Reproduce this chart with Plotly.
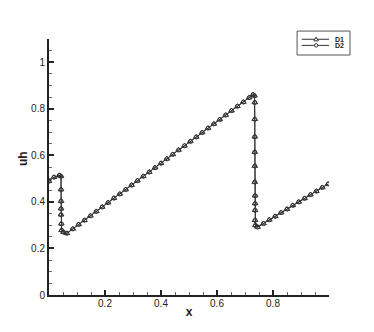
import plotly.graph_objects as go

# D1 (triangles)
d1_x = [0.000, 0.018, 0.037, 0.043, 0.043, 0.043, 0.043, 0.043, 0.044, 0.045, 0.052, 0.064,
        0.085, 0.106, 0.127, 0.148, 0.169, 0.190, 0.211, 0.232, 0.253, 0.274, 0.295, 0.316,
        0.337, 0.358, 0.379, 0.400, 0.421, 0.442, 0.463, 0.484, 0.505, 0.526, 0.547, 0.568,
        0.589, 0.610, 0.631, 0.652, 0.673, 0.694, 0.715, 0.729,
        0.734, 0.735, 0.735, 0.735, 0.735, 0.735, 0.735, 0.736, 0.736, 0.736, 0.736, 0.737, 0.745,
        0.766, 0.787, 0.808, 0.829, 0.850, 0.871, 0.892, 0.913, 0.934, 0.955, 0.976, 0.997]
d1_y = [0.489, 0.506, 0.514, 0.510, 0.453, 0.403, 0.371, 0.345, 0.306, 0.278, 0.270, 0.265,
        0.284, 0.303, 0.321, 0.340, 0.359, 0.378, 0.397, 0.416, 0.434, 0.453, 0.472, 0.491,
        0.510, 0.528, 0.547, 0.566, 0.585, 0.604, 0.623, 0.641, 0.660, 0.679, 0.698, 0.717,
        0.735, 0.754, 0.773, 0.792, 0.811, 0.829, 0.848, 0.861,
        0.856, 0.827, 0.755, 0.680, 0.614, 0.554, 0.485, 0.427, 0.393, 0.364, 0.321, 0.299, 0.292,
        0.307, 0.323, 0.338, 0.354, 0.369, 0.385, 0.400, 0.415, 0.431, 0.446, 0.462, 0.477]

# D2 (circles) (overlaps D1)
d2_x = list(d1_x)
d2_y = list(d1_y)

series_names = ["D1", "D2"]
x_ticks = [0.2, 0.4, 0.6, 0.8]
x_tick_labels = ["0.2", "0.4", "0.6", "0.8"]
y_ticks = [0, 0.2, 0.4, 0.6, 0.8, 1.0]
y_tick_labels = ["0", "0.2", "0.4", "0.6", "0.8", "1"]

FONT = "Liberation Sans, Arial, sans-serif"
LINE_C = "#333333"

fig = go.Figure()
fig.add_trace(go.Scatter(
    x=d1_x, y=d1_y, name=series_names[0], mode="lines+markers",
    line=dict(color=LINE_C, width=1),
    marker=dict(symbol="triangle-up-open", size=5, color=LINE_C, line=dict(width=1)),
))
fig.add_trace(go.Scatter(
    x=d2_x, y=d2_y, name=series_names[1], mode="lines+markers",
    line=dict(color=LINE_C, width=1),
    marker=dict(symbol="circle-open", size=4, color=LINE_C, line=dict(width=1)),
))

axis_common = dict(
    showgrid=False, zeroline=False, showline=True, linecolor="#222222", linewidth=2,
    ticks="inside", ticklen=5, tickwidth=1.5, tickcolor="#222222", automargin=False,
    tickfont=dict(family=FONT, size=10, color="#222222"),
    minor=dict(ticks="inside", ticklen=3, tickwidth=1, tickcolor="#666666",
               tickmode="linear", tick0=0, dtick=0.05),
)

# compact legend drawn in paper coordinates (like the original small legend box)
shapes = [dict(type="rect", xref="paper", yref="paper", x0=0.886, x1=1.075, y0=0.9375, y1=1.031,
               line=dict(color="#555555", width=1), fillcolor="white", layer="above")]
annotations = []
row_y = [0.999, 0.975]
tri_path = "M -2.2 -1.6 L 2.2 -1.6 L 0 2.2 Z"
for i, name in enumerate(series_names):
    yy = row_y[i]
    shapes.append(dict(type="line", xref="paper", yref="paper", x0=0.9025, x1=1.0, y0=yy, y1=yy,
                       line=dict(color=LINE_C, width=1), layer="above"))
    if i == 0:
        shapes.append(dict(type="path", xref="paper", yref="paper", xsizemode="pixel", ysizemode="pixel",
                           xanchor=0.954, yanchor=yy, path=tri_path,
                           line=dict(color=LINE_C, width=1), fillcolor="white", layer="above"))
    else:
        shapes.append(dict(type="circle", xref="paper", yref="paper", xsizemode="pixel", ysizemode="pixel",
                           xanchor=0.954, yanchor=yy, x0=-1.7, x1=1.7, y0=-1.7, y1=1.7,
                           line=dict(color=LINE_C, width=1), fillcolor="white", layer="above"))
    annotations.append(dict(text="<b>" + name + "</b>", xref="paper", yref="paper", x=1.014, y=yy,
                            xanchor="left", yanchor="middle", showarrow=False,
                            font=dict(family=FONT, size=7, color="#222222")))

annotations.append(dict(text="<b>uh</b>", xref="paper", yref="paper", x=-0.093, y=0.535,
                        textangle=-90, xanchor="center", yanchor="middle", showarrow=False,
                        font=dict(family=FONT, size=12, color="#222222")))

# the page body adds an 8px offset, so the figure is 8px smaller and shifted accordingly
fig.update_layout(
    width=366, height=324,
    margin=dict(l=41, r=45, t=31, b=37, autoexpand=False),
    paper_bgcolor="white", plot_bgcolor="white",
    showlegend=False,
    shapes=shapes, annotations=annotations,
    xaxis=dict(range=[0, 1], tickmode="array", tickvals=x_ticks, ticktext=x_tick_labels,
               ticklabelstandoff=-2,
               title=dict(text="<b>x</b>", font=dict(family=FONT, size=12, color="#222222"),
                          standoff=0),
               **axis_common),
    yaxis=dict(range=[0, 1.1], tickmode="array", tickvals=y_ticks, ticktext=y_tick_labels,
               **axis_common),
)

fig.write_html("out.html")
